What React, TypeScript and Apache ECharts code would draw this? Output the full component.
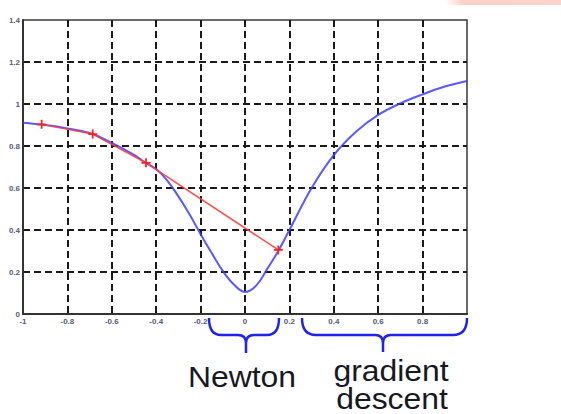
import React, { useEffect, useRef } from "react";
import * as echarts from "echarts";

const xTicks = [-1, -0.8, -0.6, -0.4, -0.2, 0, 0.2, 0.4, 0.6, 0.8, 1];
const yTicks = [0, 0.2, 0.4, 0.6, 0.8, 1, 1.2, 1.4];

const curveX = [-1, -0.9, -0.8, -0.7, -0.6, -0.5, -0.45, -0.4, -0.35, -0.3, -0.25, -0.2, -0.15, -0.1, -0.05, 0, 0.05, 0.1, 0.15, 0.2, 0.3, 0.4, 0.5, 0.6, 0.7, 0.8, 0.9, 1];
const curveY = [0.911, 0.9, 0.884, 0.862, 0.815, 0.758, 0.722, 0.69, 0.635, 0.56, 0.475, 0.38, 0.29, 0.205, 0.14, 0.105, 0.135, 0.215, 0.3, 0.4, 0.6, 0.757, 0.868, 0.948, 1.003, 1.046, 1.083, 1.11];

const stepX = [-0.916, -0.686, -0.446, 0.15];
const stepY = [0.903, 0.857, 0.72, 0.305];

const newtonLabel = "Newton";
const gradientLines = ["gradient", "descent"];

function bracePath(xL: number, xR: number, xC: number, yT: number, yM: number, yB: number, r: number) {
  return (
    `M${xL},${yT} Q${xL},${yM} ${xL + r},${yM} L${xC - 8},${yM} Q${xC},${yM} ${xC},${yM + 8} L${xC},${yB} ` +
    `M${xC},${yM + 8} Q${xC},${yM} ${xC + 8},${yM} L${xR - r},${yM} Q${xR},${yM} ${xR},${yT}`
  );
}

const braceD = bracePath(209, 279, 246, 318, 335, 353, 12) + " " + bracePath(302, 467, 383, 318, 335, 352, 14);
echarts.graphic.registerShape("braces", (echarts.graphic as any).extendPath(braceD, {}));

const labelFont = "Liberation Sans, Arial, sans-serif";

function bigText(str: string, x: number, y: number) {
  return {
    type: "text",
    x,
    y,
    scaleX: 1.1,
    style: {
      text: str,
      fontSize: 29,
      fontFamily: labelFont,
      fill: "#18181f",
      textAlign: "center",
      textVerticalAlign: "bottom",
    },
  };
}

export default function App() {
  const ref = useRef<HTMLDivElement>(null);
  useEffect(() => {
    if (!ref.current) return;
    const chart = echarts.init(ref.current, undefined, { renderer: "svg" });
    const fmt = (v: number) => String(Math.round(v * 10) / 10);
    const axisLabel = {
      margin: 3,
      fontSize: 8,
      fontWeight: "bold",
      color: "#585878",
      fontFamily: labelFont,
    };
    const splitLine = {
      show: true,
      showMinLine: false,
      showMaxLine: false,
      lineStyle: { color: "#1a1a1a", width: 2, type: [7, 4] },
    };
    chart.setOption({
      animation: false,
      backgroundColor: "#ffffff",
      grid: {
        left: 23,
        right: 94,
        top: 20,
        bottom: 100,
        show: true,
        borderColor: "#3a3a3a",
        borderWidth: 1.5,
      },
      xAxis: {
        type: "value",
        min: xTicks[0],
        max: xTicks[xTicks.length - 1],
        interval: 0.2,
        axisLine: { show: true, onZero: false, lineStyle: { color: "#333", width: 2 } },
        axisTick: { show: false },
        axisLabel: {
          ...axisLabel,
          formatter: (v: number) => (Math.abs(v - 1) < 1e-6 ? "" : fmt(v)),
        },
        splitLine,
      },
      yAxis: {
        type: "value",
        min: yTicks[0],
        max: yTicks[yTicks.length - 1],
        interval: 0.2,
        axisLine: { show: true, onZero: false, lineStyle: { color: "#333", width: 2 } },
        axisTick: { show: false },
        axisLabel: { ...axisLabel, formatter: (v: number) => fmt(v) },
        splitLine,
      },
      series: [
        {
          type: "line",
          data: curveX.map((x, i) => [x, curveY[i]]),
          smooth: 0.4,
          showSymbol: false,
          symbol: "none",
          lineStyle: { color: "#3c3cff", width: 2, opacity: 0.85 },
          z: 3,
        },
        {
          type: "line",
          data: stepX.map((x, i) => [x, stepY[i]]),
          symbol: "path://M0,4H10V6H0Z M4,0H6V10H4Z",
          symbolSize: 9,
          itemStyle: { color: "#ff2020" },
          lineStyle: { color: "#ff3a3a", width: 1.5, opacity: 0.9 },
          z: 4,
        },
      ],
      graphic: [
        {
          type: "rect",
          shape: { x: 445, y: 0, width: 116, height: 5 },
          style: {
            fill: new echarts.graphic.LinearGradient(0, 0, 1, 0, [
              { offset: 0, color: "rgba(253,210,200,0)" },
              { offset: 0.15, color: "rgba(253,210,200,1)" },
              { offset: 1, color: "rgba(253,212,204,1)" },
            ]),
          },
          silent: true,
        },
        {
          type: "braces",
          x: 0,
          y: 0,
          style: { stroke: "#2222ee", fill: "none", lineWidth: 2.5 },
          silent: true,
        },
        bigText(newtonLabel, 242, 391),
        bigText(gradientLines[0], 391, 385),
        bigText(gradientLines[1], 392, 413.5),
      ],
    });
    return () => chart.dispose();
  }, []);
  return <div ref={ref} style={{ position: "fixed", left: 0, top: 0, width: 561, height: 414 }} />;
}
